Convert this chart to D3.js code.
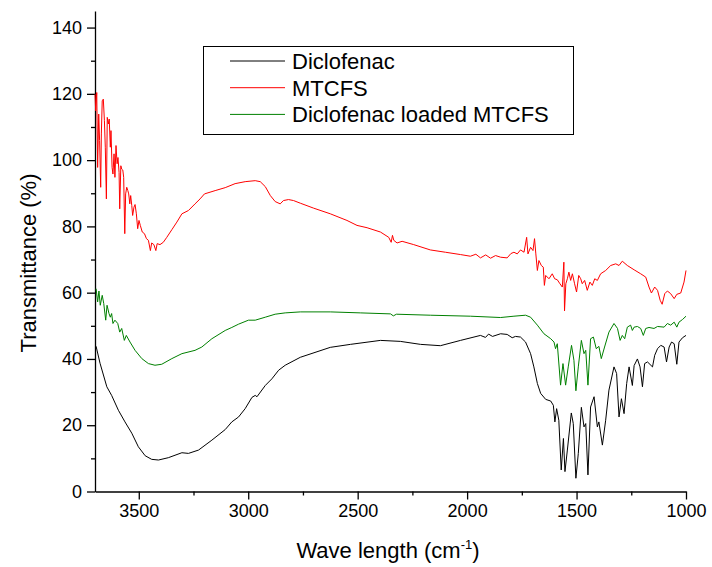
<!DOCTYPE html>
<html>
<head>
<meta charset="utf-8">
<script src="https://cdn.jsdelivr.net/npm/d3@7/dist/d3.min.js"></script>
<style>
  html, body { margin: 0; padding: 0; background: #fff; }
  svg { display: block; }
  text { font-family: "Liberation Sans", Arial, Helvetica, sans-serif; }
</style>
</head>
<body>
<svg id="chart" width="712" height="567"></svg>
<script>
// ---- Data (wavenumber cm^-1, transmittance %) ----
const seriesNames = ["Diclofenac", "MTCFS", "Diclofenac loaded MTCFS"];
const seriesColors = ["#000000", "#ff0000", "#008000"];

const diclofenac = [
  [3700,44],[3695,43.8],[3677,38.7],[3646,31.6],[3624,29],[3593,24.5],[3563,21],[3532,17.6],
  [3502,13.5],[3471,10.8],[3441,9.7],[3410,9.5],[3365,10.2],[3303,11.7],[3273,11.5],[3227,12.5],
  [3166,15.5],[3105,18.7],[3075,21],[3044,22.5],[3014,25],[2983,28.4],[2968,29],[2960,28.6],
  [2922,32],[2892,34],[2861,36.6],[2831,38.1],[2762,40.5],[2625,43.5],[2533,44.4],[2396,45.6],
  [2305,45.3],[2213,44.4],[2122,44],[2030,45.6],[1939,47.1],[1916,46.5],[1902,47.5],[1884,46.8],
  [1847,47.6],[1817,47.4],[1794,46.4],[1779,46.8],[1756,46.6],[1733,45.1],[1710,41.6],[1695,37.6],
  [1679,32.6],[1664,29.6],[1641,27.8],[1618,27.3],[1606,26],[1599,21],[1591,25],[1581,21.5],
  [1570,6.5],[1560,16],[1553,6],[1542,12.5],[1524,23.7],[1515,20.5],[1503,4],[1492,11.5],
  [1478,25.4],[1466,19.5],[1458,20.5],[1448,5],[1436,25.5],[1420,28.6],[1405,19.5],[1398,21],
  [1382,14],[1367,21.5],[1352,30.6],[1329,37.6],[1317,35.6],[1306,22.5],[1295,28],[1283,23.5],
  [1271,32.6],[1260,37.6],[1245,32],[1237,38],[1222,40],[1210,37.6],[1199,31.6],[1189,38.6],
  [1176,39.1],[1153,37.6],[1143,41.1],[1130,43.1],[1115,44.1],[1100,43.6],[1089,39.1],[1077,43.6],
  [1066,45.1],[1054,44.6],[1042,38.4],[1032,45.1],[1016,46.4],[1000,47.1]
];

const mtcfs = [
  [3700,119.9],[3697,114.9],[3692,120.4],[3688,97.8],[3683,113.9],[3679,105.9],[3674,91.8],
  [3671,107.9],[3667,117.9],[3662,118.4],[3657,111.9],[3653,103.9],[3648,88.3],[3644,112.9],
  [3639,110.9],[3635,112.4],[3630,103.9],[3627,108.9],[3622,97.8],[3618,95.8],[3613,101.9],
  [3609,94.8],[3604,104.4],[3599,98.9],[3595,100.8],[3590,96.3],[3587,85.3],[3582,98.3],
  [3578,97.3],[3573,97],[3569,94.8],[3564,77.8],[3560,89.8],[3555,91.8],[3550,90.8],[3546,89.8],
  [3541,86.8],[3537,89.3],[3532,86.3],[3528,83.3],[3522,85.8],[3517,86.6],[3511,83.8],[3505,79.3],
  [3499,81.8],[3493,80.3],[3484,78.3],[3474,77.8],[3465,76.3],[3456,75.8],[3447,72.7],[3441,75],
  [3431,74.5],[3422,72.7],[3416,74.8],[3403,74.5],[3388,75.2],[3372,76.7],[3349,79],[3326,81.3],
  [3303,83.8],[3273,84.8],[3243,86.8],[3220,88.3],[3200,89.8],[3151,90.8],[3105,91.7],[3060,92.9],
  [3014,93.5],[2968,93.8],[2945,93.5],[2922,92],[2899,89.3],[2877,87.5],[2854,86.8],[2839,87.8],
  [2816,88.1],[2793,87.8],[2762,87],[2701,85.5],[2625,83.8],[2549,81.8],[2503,80.3],[2457,79.6],
  [2396,78.3],[2358,76.7],[2347,75.2],[2341,77.3],[2335,75.8],[2320,75],[2297,75.5],[2244,74.5],
  [2168,72.9],[2099,72.2],[2030,71.5],[1985,71],[1960,71.6],[1939,70.5],[1915,71.4],[1893,70.4],
  [1870,71.2],[1847,70.7],[1817,70.5],[1800,71.8],[1786,72.2],[1771,71.7],[1756,72.9],[1740,72.2],
  [1728,76.7],[1722,71.7],[1710,73.7],[1699,72.7],[1692,76.3],[1686,71.7],[1679,66.7],[1672,69.7],
  [1661,68.2],[1652,67.7],[1647,62.2],[1641,65.2],[1626,64.2],[1611,65.7],[1600,64.2],[1588,63.9],
  [1576,62.7],[1565,61.7],[1558,69.2],[1555,54.5],[1549,62.7],[1542,64.2],[1535,66.2],[1527,63.7],
  [1519,65.7],[1509,62.7],[1500,60.2],[1490,65.2],[1481,64.2],[1474,62.7],[1463,63.7],[1451,60.7],
  [1439,63.2],[1428,62.2],[1417,64.2],[1405,63.7],[1390,65.7],[1367,66.7],[1344,68.2],[1321,68.7],
  [1306,68.2],[1291,69.5],[1268,68.2],[1237,66.9],[1207,65.7],[1184,64.7],[1169,61.7],[1158,59.9],
  [1143,61.7],[1130,60.7],[1118,57.7],[1109,56.5],[1097,59.7],[1085,60.5],[1070,59.7],[1054,58.2],
  [1042,59.5],[1024,59.9],[1009,63.2],[1000,66.7]
];

const loaded = [
  [3695,61.2],[3688,57.2],[3682,60.5],[3676,56.2],[3667,59.2],[3660,56.7],[3651,51.7],[3645,56.2],
  [3636,53.7],[3630,52.6],[3624,53.7],[3618,50.7],[3609,51.7],[3596,50.7],[3587,48.1],[3578,49.2],
  [3566,45.6],[3557,47.1],[3540,45.1],[3517,42.6],[3486,40.1],[3456,38.6],[3426,38.1],[3395,38.4],
  [3349,40.1],[3303,41.6],[3243,42.6],[3212,43.6],[3166,46.1],[3105,48.6],[3075,49.5],[3044,50.5],
  [2999,51.7],[2968,51.7],[2922,52.6],[2877,53.5],[2831,53.9],[2762,54.2],[2625,54.2],[2488,53.9],
  [2350,53.6],[2337,53.0],[2323,53.5],[2168,53.2],[1985,52.9],[1847,52.5],[1786,52.9],[1733,53.2],
  [1710,52.6],[1679,50.2],[1649,47.6],[1618,46.1],[1603,45.1],[1596,43.1],[1588,44.6],[1573,32.1],
  [1562,38.6],[1550,32.1],[1538,37.6],[1523,44.1],[1512,39.6],[1503,30.4],[1492,37.6],[1478,45.6],
  [1466,41.6],[1458,42.6],[1448,32.1],[1436,46.1],[1423,46.6],[1410,43.1],[1398,43.8],[1387,40.1],
  [1372,43.6],[1352,48.1],[1329,50.7],[1313,49.2],[1301,45.6],[1291,47.1],[1280,46.1],[1268,49.6],
  [1253,50.2],[1245,48.6],[1237,49.6],[1222,49.8],[1207,49.2],[1195,47.1],[1184,49.2],[1169,49.5],
  [1146,49.2],[1130,49.8],[1100,49.6],[1085,50.7],[1070,50.2],[1054,51.1],[1042,49.6],[1032,51.1],
  [1016,51.9],[1000,52.9]
];

const xTicks = [3500, 3000, 2500, 2000, 1500, 1000];
const xMinorTicks = [3250, 2750, 2250, 1750, 1250];
const yTicks = [0, 20, 40, 60, 80, 100, 120, 140];
const yMinorTicks = [10, 30, 50, 70, 90, 110, 130];

// ---- Chart ----
const svg = d3.select("#chart");
const x = d3.scaleLinear().domain([3700, 1000]).range([95, 686]);
const y = d3.scaleLinear().domain([0, 145]).range([491.5, 11]);

const fontFam = '"Liberation Sans", Arial, Helvetica, sans-serif';

// minor ticks
svg.append("g").attr("transform", "translate(0,491.5)")
  .call(d3.axisBottom(x).tickValues(xMinorTicks).tickSize(4).tickFormat(""))
  .call(g => g.select(".domain").remove())
  .selectAll("line").attr("stroke-width", 1.3);
svg.append("g").attr("transform", "translate(95,0)")
  .call(d3.axisLeft(y).tickValues(yMinorTicks).tickSize(4).tickFormat(""))
  .call(g => g.select(".domain").remove())
  .selectAll("line").attr("stroke-width", 1.3);

// major axes
const gx = svg.append("g").attr("transform", "translate(0,491.5)")
  .call(d3.axisBottom(x).tickValues(xTicks).tickSize(8).tickSizeOuter(0).tickPadding(5).tickFormat(d3.format("d")));
const gy = svg.append("g").attr("transform", "translate(95,0)")
  .call(d3.axisLeft(y).tickValues(yTicks).tickSize(8).tickSizeOuter(0).tickPadding(5).tickFormat(d3.format("d")));
[gx, gy].forEach(g => {
  g.selectAll("text").attr("font-size", 18).attr("font-family", fontFam).attr("fill", "#000");
  g.selectAll("line").attr("stroke-width", 1.3);
  g.select(".domain").attr("stroke-width", 1.3);
});

// lines
const line = d3.line().x(d => x(d[0])).y(d => y(d[1]));
const allSeries = [diclofenac, mtcfs, loaded];
svg.append("g").attr("clip-path", null)
  .selectAll("path").data(allSeries).join("path")
  .attr("d", line)
  .attr("fill", "none")
  .attr("stroke", (d, i) => seriesColors[i])
  .attr("stroke-width", 1)
  .attr("stroke-linejoin", "round");

// axis titles
svg.append("text")
  .attr("transform", "translate(35.5,263) rotate(-90)")
  .attr("text-anchor", "middle")
  .attr("font-size", 22).attr("font-family", fontFam)
  .text("Transmittance (%)");

const xt = svg.append("text")
  .attr("x", 388).attr("y", 558)
  .attr("text-anchor", "middle")
  .attr("font-size", 22).attr("font-family", fontFam);
xt.append("tspan").text("Wave length (cm");
xt.append("tspan").attr("font-size", 13).attr("dy", -9).text("-1");
xt.append("tspan").attr("dy", 9).text(")");

// legend
const lg = svg.append("g");
lg.append("rect").attr("x", 203.5).attr("y", 46.5).attr("width", 370).attr("height", 88)
  .attr("fill", "#fff").attr("stroke", "#000").attr("stroke-width", 1);
seriesNames.forEach((name, i) => {
  const yy = 61 + i * 26.7;
  lg.append("line").attr("x1", 230).attr("x2", 285).attr("y1", yy).attr("y2", yy)
    .attr("stroke", seriesColors[i]).attr("stroke-width", 1);
  lg.append("text").attr("x", 292).attr("y", yy + 8)
    .attr("font-size", 22).attr("font-family", fontFam).text(name);
});
</script>
</body>
</html>
